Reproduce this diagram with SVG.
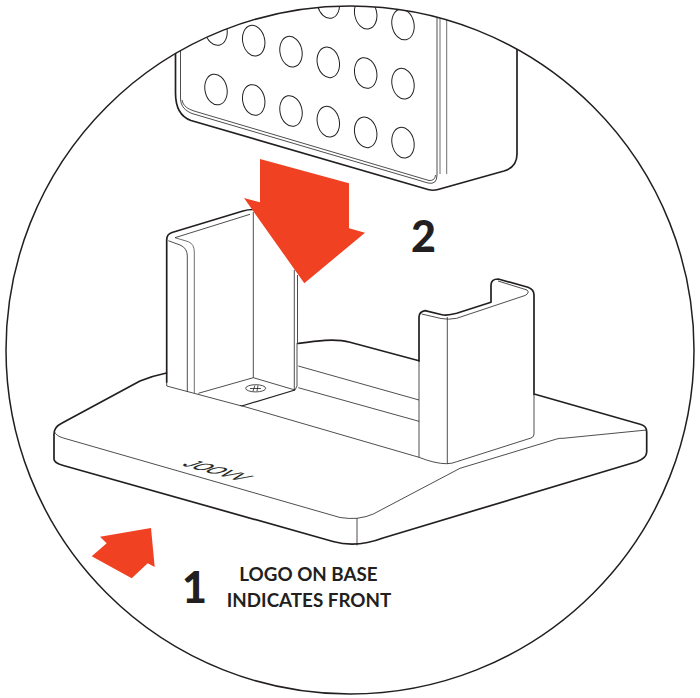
<svg xmlns="http://www.w3.org/2000/svg" width="700" height="698" viewBox="0 0 700 698">
<style>
.o{fill:none;stroke:#231f20;stroke-width:1.7;stroke-linejoin:round;stroke-linecap:round}
.t{fill:none;stroke:#231f20;stroke-width:.8;stroke-linejoin:round}
.g{fill:none;stroke:#6d6e70;stroke-width:1}
.h{fill:#fff;stroke:#231f20;stroke-width:1}
.a{fill:#f04123}
.n{font-family:Lato,"Liberation Sans",sans-serif;font-weight:900;fill:#231f20;font-size:43px}
.l{font-family:Lato,"Liberation Sans",sans-serif;font-weight:700;fill:#231f20;font-size:18.800px;text-anchor:middle}
</style>
<defs><clipPath id="c"><circle cx="350" cy="350" r="344"/></clipPath></defs>
<rect width="700" height="698" fill="#fff"/>
<g id="panel" clip-path="url(#c)">
<path class="o" d="M175.500 40V93C175.500 108 181 117 191 120.500L428 189.500Q433 191 438 189.500L504 171Q517 167 517 154V40"/>
<path class="t" d="M180.500 40V98C180.500 107 186 111 192 113.500L428 183Q437 185 437 175V10"/>
<path class="t" d="M182 100C183 106 188 109 194 111L429 180.500Q435 181 435.500 175"/>
<path class="g" d="M440 10V174M446.700 10V174"/>
<g transform="translate(216 89.500)"><ellipse class="h" rx="11" ry="15.500" transform="rotate(-12)"/></g>
<g transform="translate(253.700 100)"><ellipse class="h" rx="11" ry="15.500" transform="rotate(-12)"/></g>
<g transform="translate(291 111)"><ellipse class="h" rx="11" ry="15.500" transform="rotate(-12)"/></g>
<g transform="translate(328.300 121.700)"><ellipse class="h" rx="11" ry="15.500" transform="rotate(-12)"/></g>
<g transform="translate(365.700 132.300)"><ellipse class="h" rx="11" ry="15.500" transform="rotate(-12)"/></g>
<g transform="translate(403 142.700)"><ellipse class="h" rx="11" ry="15.500" transform="rotate(-12)"/></g>
<g transform="translate(216 30)"><ellipse class="h" rx="11" ry="15.500" transform="rotate(-12)"/></g>
<g transform="translate(253.700 40.700)"><ellipse class="h" rx="11" ry="15.500" transform="rotate(-12)"/></g>
<g transform="translate(291 51.700)"><ellipse class="h" rx="11" ry="15.500" transform="rotate(-12)"/></g>
<g transform="translate(328.300 62.300)"><ellipse class="h" rx="11" ry="15.500" transform="rotate(-12)"/></g>
<g transform="translate(365.700 73)"><ellipse class="h" rx="11" ry="15.500" transform="rotate(-12)"/></g>
<g transform="translate(403 83.700)"><ellipse class="h" rx="11" ry="15.500" transform="rotate(-12)"/></g>
<g transform="translate(328.300 3)"><ellipse class="h" rx="11" ry="15.500" transform="rotate(-12)"/></g>
<g transform="translate(365.700 13.700)"><ellipse class="h" rx="11" ry="15.500" transform="rotate(-12)"/></g>
<g transform="translate(403 24.500)"><ellipse class="h" rx="11" ry="15.500" transform="rotate(-12)"/></g>
</g>
<circle id="frame" cx="350" cy="350" r="344" fill="none" stroke="#231f20" stroke-width="1.500"/>
<g id="base">
<path class="o" d="M166.500 373Q152 376 140 381L61.700 423.300Q54 427 54 434V459Q54 463 63.300 465.500L333 541.500Q357 548 383 538L636.700 461.700Q646.700 458 646.700 452V432Q646.700 426 641 424.500L535 394.300"/>
<path class="t" d="M54 431Q56 436 63.300 438L340 517.500Q350 519 357 518.300Q367 517 373.300 514L460 468.300L556.700 439Q560 438 563 438.300L646.700 430"/>
<path class="t" d="M357 518.300V545.500"/>
<text transform="matrix(1 .28 -.87 .29 181 465)" font-family="Liberation Sans,sans-serif" font-size="25" fill="#231f20" stroke="#231f20" stroke-width=".3" textLength="58" lengthAdjust="spacingAndGlyphs">JOOVV</text>
</g>
<g id="back-wall">
<path class="o" d="M298 343.500C315 341 335 338 350 342.300L419 360.700"/>
<path class="t" d="M298.300 366L419 400M298.300 387.700L419 421.300M240 405.300L419 457.300"/>
</g>
<g id="left-post">
<path class="o" d="M166.700 382V240Q166.700 234 172 232.500L243 211Q248 209.500 253 209.500"/>
<path class="t" d="M166.700 382V386L241.700 406"/>
<path class="t" d="M168.300 240.700L180 245Q187.300 248 187.300 256V391.700"/>
<path class="g" d="M175 237.700L188.300 241.700Q194.300 244 194.300 252V393" stroke-width="1.300"/>
<path class="t" d="M175 237.700L250 214.300M253.300 212V377.700L198.300 393.300M253.300 377.700L295 390"/>
<path d="M295 390L241.700 406" fill="none" stroke="#231f20" stroke-width="1.200"/>
<path class="t" d="M294.300 270V390M297.500 275V343"/>
<path class="t" d="M297 343V386L295 390"/>
<ellipse class="t" cx="255.700" cy="388.300" rx="10" ry="3.600"/>
<path class="t" d="M250 388.500H261M255 385.500L253 391M258 385.500L257 391"/>
</g>
<g id="right-post">
<path class="o" d="M419 360.700V317Q419 312 425 310.700L441 314.500Q447 316 456.700 313.300L491 302.300V285Q491 279 498.300 279L528 287.300Q534 289.500 534 295V394.300"/>
<path class="t" d="M419 360.700V457.300Q435 463.700 446.700 463.700Q452 463.700 456.700 461.700L531 438Q534 437 534 434V394.300"/>
<path class="t" d="M447.300 317V463.700M421.700 314L441 318.500Q448 320 456.700 318.300L525 295.500Q530 293 527 290L498 281"/>
</g>
<g id="arrows">
<polygon id="arrow-2" class="a" points="260,159 349,183.300 349,228.300 365,232.700 304.300,283.300 244,198 260,202.300"/>
<polygon id="arrow-1" class="a" points="151,528 154.700,567 147.700,563.300 131.700,578.300 91.700,556.300 106.700,543.300 100,536.700"/>
</g>
<g id="labels">
<text class="n" x="411" y="251.500">2</text>
<text class="n" x="182" y="602.500">1</text>
<text class="l" x="308.500" y="580.700">LOGO ON BASE</text>
<text class="l" x="309" y="606.700">INDICATES FRONT</text>
</g>
</svg>
